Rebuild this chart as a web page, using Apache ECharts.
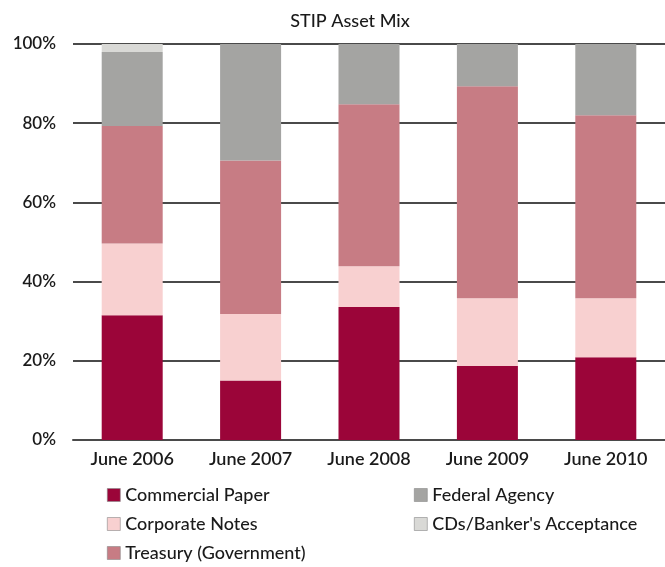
<!DOCTYPE html>
<html>
<head>
<meta charset="utf-8">
<script src="https://cdn.jsdelivr.net/npm/echarts@6/dist/echarts.min.js"></script>
<style>
  html, body { margin: 0; padding: 0; background: #fff; }
  #chart { width: 665px; height: 567px; }
</style>
</head>
<body>
<div id="chart"></div>
<script>
// data (percent of portfolio)
const categories = ['June 2006', 'June 2007', 'June 2008', 'June 2009', 'June 2010'];
const commercialPaper = [31.5, 15.0, 33.6, 18.7, 20.9];
const corporateNotes = [18.1, 16.8, 10.3, 17.1, 14.9];
const treasury = [29.7, 38.8, 40.9, 53.5, 46.2];
const federalAgency = [18.7, 29.4, 15.2, 10.7, 18.0];
const cdsBankers = [2.0, 0, 0, 0, 0];
const yTicks = [0, 20, 40, 60, 80, 100];

const font = 'Lato, "Open Sans", sans-serif';

const chart = echarts.init(document.getElementById('chart'));

function bar(name, data, color) {
  return {
    name: name,
    type: 'bar',
    stack: 'mix',
    barWidth: 61,
    data: data,
    itemStyle: { color: color },
    emphasis: { disabled: true }
  };
}

const legendText = { fontFamily: font, fontSize: 18, fontWeight: 500, color: '#1a1a1a' };

const option = {
  animation: false,
  backgroundColor: '#fff',
  title: {
    text: 'STIP Asset Mix',
    left: 345,
    textAlign: 'center',
    top: 7,
    textStyle: { fontFamily: font, fontSize: 18, fontWeight: 500, color: '#1a1a1a' }
  },
  legend: [
    {
      data: ['Commercial Paper', 'Corporate Notes', 'Treasury (Government)'],
      orient: 'vertical',
      left: 102,
      top: 481,
      itemWidth: 13,
      itemHeight: 13,
      itemGap: 11,
      icon: 'rect',
      itemStyle: { borderColor: '#888', borderWidth: 0.6 },
      textStyle: legendText
    },
    {
      data: ['Federal Agency', "CDs/Banker's Acceptance"],
      orient: 'vertical',
      left: 409,
      top: 481,
      itemWidth: 13,
      itemHeight: 13,
      itemGap: 11,
      icon: 'rect',
      itemStyle: { borderColor: '#888', borderWidth: 0.6 },
      textStyle: legendText
    }
  ],
  grid: { left: 73, right: -2, top: 44, bottom: 127, containLabel: false },
  xAxis: {
    type: 'category',
    data: categories,
    axisLine: { show: true, lineStyle: { color: '#4a4a4a', width: 2 } },
    axisTick: { show: false },
    axisLabel: { fontFamily: font, fontSize: 18, fontWeight: 600, color: '#1a1a1a', margin: 10 }
  },
  yAxis: {
    type: 'value',
    min: 0,
    max: 100,
    interval: 20,
    axisLine: { show: false },
    axisTick: { show: false },
    splitLine: { lineStyle: { color: '#4a4a4a', width: 2 } },
    axisLabel: {
      fontFamily: font,
      fontSize: 17,
      fontWeight: 600,
      color: '#1a1a1a',
      margin: 17,
      formatter: function (v) { return yTicks.indexOf(v) >= 0 ? v + '%' : ''; }
    }
  },
  series: [
    bar('Commercial Paper', commercialPaper, '#9b0539'),
    bar('Corporate Notes', corporateNotes, '#f8d0d0'),
    bar('Treasury (Government)', treasury, '#c77c84'),
    bar('Federal Agency', federalAgency, '#a4a4a2'),
    bar("CDs/Banker's Acceptance", cdsBankers, '#d9d9d6')
  ]
};

chart.setOption(option);
</script>
</body>
</html>
